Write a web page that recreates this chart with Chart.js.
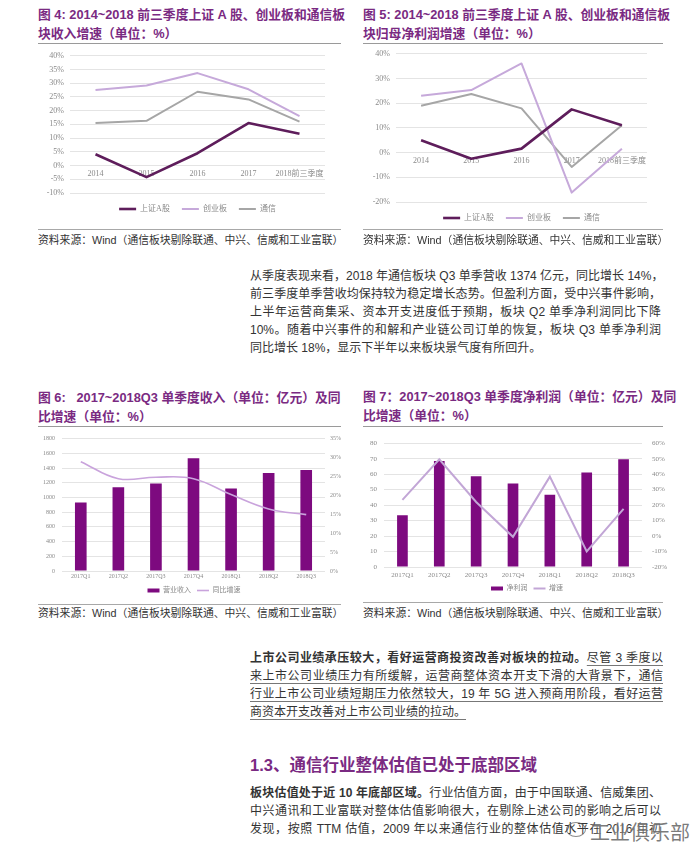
<!DOCTYPE html>
<html>
<head>
<meta charset="utf-8">
<script src="https://cdn.jsdelivr.net/npm/chart.js@4.4.0/dist/chart.umd.min.js"></script>
<style>
  body { margin: 0; background: #fff; width: 699px; height: 856px; overflow: hidden; position: relative;
         font-family: "Liberation Sans", "Noto Sans CJK SC", sans-serif; }
  .abs { position: absolute; }
  .title { position: absolute; color: #7a2a82; font-weight: bold; font-size: 12.8px; line-height: 19px; white-space: nowrap; }
  .jl { display: block; text-align: justify; text-align-last: justify; white-space: nowrap; }
  .hr { position: absolute; height: 0; border-top: 1.5px solid #9a9a9a; }
  .hr2 { position: absolute; height: 0; border-top: 1px solid #a8a8a8; }
  .src { position: absolute; font-size: 10.8px; color: #333; white-space: nowrap; line-height: 14px; }
  .txt { position: absolute; font-size: 12px; color: #333; line-height: 18px; }
  .txt div { white-space: nowrap; }
  .txt u { text-decoration-color: #777; text-underline-offset: 3px; }
  canvas { position: absolute; }
</style>
</head>
<body>

<!-- figure 4 -->
<div class="title" style="left:38px;top:5px;width:302px;">
  <span class="jl">图 4: 2014~2018 前三季度上证 A 股、创业板和通信板</span>
  <span>块收入增速（单位：%）</span>
</div>
<div class="hr" style="left:38px;top:43px;width:303px;"></div>
<canvas id="c4" width="300" height="178" style="left:30px;top:45px;"></canvas>
<div class="hr2" style="left:38px;top:229px;width:303px;"></div>
<div class="src" style="left:38px;top:233px;">资料来源：Wind（通信板块剔除联通、中兴、信威和工业富联）</div>

<!-- figure 5 -->
<div class="title" style="left:363px;top:5px;width:300px;">
  <span class="jl">图 5: 2014~2018 前三季度上证 A 股、创业板和通信板</span>
  <span>块归母净利润增速（单位：%）</span>
</div>
<div class="hr" style="left:363px;top:43px;width:300px;"></div>
<canvas id="c5" width="296" height="189" style="left:356px;top:43px;"></canvas>
<div class="hr2" style="left:363px;top:229px;width:300px;"></div>
<div class="src" style="left:363px;top:233px;">资料来源：Wind（通信板块剔除联通、中兴、信威和工业富联）</div>

<!-- paragraph 1 -->
<div class="txt" style="left:250px;top:267px;width:411px;">
  <div class="jl">从季度表现来看，2018 年通信板块 Q3 单季营收 1374 亿元，同比增长 14%，</div>
  <div class="jl">前三季度单季营收均保持较为稳定增长态势。但盈利方面，受中兴事件影响，</div>
  <div class="jl">上半年运营商集采、资本开支进度低于预期，板块 Q2 单季净利润同比下降</div>
  <div class="jl">10%。随着中兴事件的和解和产业链公司订单的恢复，板块 Q3 单季净利润</div>
  <div>同比增长 18%，显示下半年以来板块景气度有所回升。</div>
</div>

<!-- figure 6 -->
<div class="title" style="left:38px;top:388px;width:302px;">
  <span class="jl">图 6:&nbsp;&nbsp;&nbsp;2017~2018Q3 单季度收入（单位：亿元）及同</span>
  <span>比增速（单位：%）</span>
</div>
<div class="hr" style="left:38px;top:426px;width:303px;"></div>
<canvas id="c6" width="330" height="176" style="left:20px;top:428px;"></canvas>
<div class="hr2" style="left:38px;top:604px;width:303px;"></div>
<div class="src" style="left:38px;top:606px;">资料来源：Wind（通信板块剔除联通、中兴、信威和工业富联）</div>

<!-- figure 7 -->
<div class="title" style="left:363px;top:387px;width:300px;">
  <span class="jl">图 7：2017~2018Q3 单季度净利润（单位：亿元）及同</span>
  <span>比增速（单位：%）</span>
</div>
<div class="hr" style="left:363px;top:426px;width:300px;"></div>
<canvas id="c7" width="335" height="173" style="left:355px;top:429px;"></canvas>
<div class="hr2" style="left:363px;top:602px;width:300px;"></div>
<div class="src" style="left:363px;top:606px;">资料来源：Wind（通信板块剔除联通、中兴、信威和工业富联）</div>

<!-- paragraph 2 -->
<div class="txt" style="left:250px;top:649px;width:413px;">
  <div class="jl"><b>上市公司业绩承压较大，看好运营商投资改善对板块的拉动。</b><u>尽管 3 季度以</u></div>
  <div class="jl"><u>来上市公司业绩压力有所缓解，运营商整体资本开支下滑的大背景下，通信</u></div>
  <div class="jl"><u>行业上市公司业绩短期压力依然较大，19 年 5G 进入预商用阶段，看好运营</u></div>
  <div><u>商资本开支改善对上市公司业绩的拉动。</u></div>
</div>

<!-- section heading -->
<div class="abs" style="left:250px;top:754px;color:#7a2a82;font-weight:bold;font-size:16.5px;line-height:22px;white-space:nowrap;">1.3、通信行业整体估值已处于底部区域</div>

<!-- paragraph 3 -->
<div class="txt" style="left:250px;top:784px;width:411px;">
  <div class="jl"><b>板块估值处于近 10 年底部区域。</b>行业估值方面，由于中国联通、信威集团、</div>
  <div class="jl">中兴通讯和工业富联对整体估值影响很大，在剔除上述公司的影响之后可以</div>
  <div class="jl">发现，按照 TTM 估值，2009 年以来通信行业的整体估值水平在 2016 年初</div>
</div>

<!-- watermark -->
<div class="abs" style="left:566px;top:822px;width:18px;height:13px;border:1.5px solid rgba(90,90,90,0.7);border-radius:50%;"></div>
<div class="abs" style="left:590px;top:821px;font-size:20px;line-height:24px;color:rgba(80,80,80,0.75);text-shadow:0 0 2px #fff;white-space:nowrap;">工业俱乐部</div>

<script>
// figure 4 / 5 categories
const yearLabels = ['2014', '2015', '2016', '2017', '2018前三季度'];
// figure 4: revenue growth (%)
const revShA = [4.1, -4.2, 4.5, 15.5, 11.6];
const revGem = [27.5, 29.2, 33.7, 27.8, 18.0];
const revTel = [15.5, 16.3, 26.9, 24.1, 16.0];
// figure 5: net profit growth (%)
const profitShA = [5.0, -2.5, 1.6, 17.5, 11.1];
const profitGem = [23.0, 25.3, 36.1, -16.2, 1.6];
const profitTel = [19.0, 23.7, 17.9, -5.8, 11.1];
// figure 6 / 7
const quarterLabels = ['2017Q1', '2017Q2', '2017Q3', '2017Q4', '2018Q1', '2018Q2', '2018Q3'];
const quarterRevenue = [930, 1140, 1188, 1532, 1123, 1334, 1374];
const revenueGrowth = [28.9, 24.4, 24.8, 24.4, 20.2, 16.4, 14.9];
const quarterProfit = [33.5, 68.5, 58.6, 54.0, 46.7, 61.0, 69.6];
const profitGrowth = [23.4, 49.6, 22.0, -0.5, 38.4, -10.0, 17.6];

const GRID = '#e4e4e4';
const TICK = '#8a8a8a';
const SERIF = '"Liberation Serif", "Noto Sans CJK SC", serif';

// line charts of figure 4 and 5 (x labels sit on the 0% line)
function growthChart(id, series, yMin, yMax, step) {
    new Chart(document.getElementById(id), {
        type: 'line',
        data: {
            labels: yearLabels,
            datasets: [
                { label: '上证A股', data: series[0], borderColor: '#5e1d5b', borderWidth: 2.6 },
                { label: '创业板', data: series[1], borderColor: '#c6a9da', borderWidth: 2 },
                { label: '通信', data: series[2], borderColor: '#a6a6a6', borderWidth: 2 }
            ].map(d => Object.assign(d, { pointRadius: 0, tension: 0, fill: false, pointStyle: 'line', borderJoinStyle: 'round' }))
        },
        options: {
            responsive: false,
            animation: false,
            layout: { padding: { top: 0, right: 5, bottom: 0, left: 0 } },
            plugins: {
                tooltip: { enabled: false },
                legend: {
                    position: 'bottom',
                    fullSize: false,
                    labels: { usePointStyle: true, pointStyleWidth: 17, boxHeight: 8, padding: 12,
                              color: TICK, font: { size: 8, family: SERIF } }
                }
            },
            scales: {
                x: {
                    position: { y: 0 },
                    offset: true,
                    grid: { display: false, drawTicks: false },
                    border: { display: false },
                    ticks: { color: TICK, font: { size: 8, family: SERIF }, padding: 4, maxRotation: 0, autoSkip: false }
                },
                y: {
                    min: yMin, max: yMax,
                    grid: { color: GRID, drawTicks: false },
                    border: { display: false },
                    ticks: { stepSize: step, color: TICK, font: { size: 8, family: SERIF }, padding: 6,
                             callback: v => v + '%' },
                    afterFit: s => { s.width = 40; }
                }
            }
        }
    });
}

// bar + line charts of figure 6 and 7
function quarterChart(id, barLabel, bars, lineLabel, line, opt) {
    new Chart(document.getElementById(id), {
        data: {
            labels: quarterLabels,
            datasets: [
                { type: 'line', label: lineLabel, data: line, yAxisID: 'y1', borderColor: opt.lineColor,
                  borderWidth: opt.lineWidth, pointRadius: 0, tension: opt.tension, pointStyle: 'line', order: 0 },
                { type: 'bar', label: barLabel, data: bars, yAxisID: 'y', backgroundColor: '#7d0a7f',
                  barPercentage: opt.barPct, categoryPercentage: 1, pointStyle: 'rect', order: 1 }
            ]
        },
        options: {
            responsive: false,
            animation: false,
            layout: { padding: { left: opt.padLeft } },
            plugins: {
                tooltip: { enabled: false },
                legend: {
                    position: 'bottom',
                    reverse: true,
                    labels: { usePointStyle: true, pointStyleWidth: 12, boxHeight: 4, padding: opt.legendPad,
                              color: TICK, font: { size: 7, family: SERIF } }
                }
            },
            scales: {
                x: {
                    grid: { display: false, drawTicks: false },
                    border: { display: false },
                    ticks: { color: TICK, font: { size: opt.xFont, family: SERIF }, padding: opt.xPad, maxRotation: 0, autoSkip: false },
                    afterFit: s => { s.height = opt.xHeight; }
                },
                y: {
                    position: 'left',
                    min: opt.yMin, max: opt.yMax,
                    grid: { color: GRID, drawTicks: false },
                    border: { display: false },
                    ticks: { stepSize: opt.yStep, color: TICK, font: { size: opt.yFont, family: SERIF }, padding: 7,
                             callback: v => String(v) },
                    afterFit: s => { s.width = opt.yWidth - opt.padLeft; }
                },
                y1: {
                    position: 'right',
                    min: opt.y1Min, max: opt.y1Max,
                    grid: { display: false, drawTicks: false },
                    border: { display: false },
                    ticks: { stepSize: opt.y1Step, color: TICK, font: { size: opt.yFont, family: SERIF }, padding: opt.y1Pad,
                             callback: v => v + '%' },
                    afterFit: s => { s.width = opt.y1Width; }
                }
            }
        }
    });
}

growthChart('c4', [revShA, revGem, revTel], -10, 40, 5);
growthChart('c5', [profitShA, profitGem, profitTel], -20, 40, 10);

quarterChart('c6', '营业收入', quarterRevenue, '同比增速', revenueGrowth, {
    lineColor: '#c9a3dc', lineWidth: 1.6, tension: 0.4, barPct: 0.31,
    yMin: 0, yMax: 1800, yStep: 200, y1Min: 0, y1Max: 35, y1Step: 5,
    yFont: 6, xFont: 6, xPad: 2, xHeight: 10, legendPad: 6,
    yWidth: 42, y1Width: 25, y1Pad: 5, padLeft: 18
});
quarterChart('c7', '净利润', quarterProfit, '增速', profitGrowth, {
    lineColor: '#c2a6d6', lineWidth: 2, tension: 0, barPct: 0.29,
    yMin: 0, yMax: 80, yStep: 10, y1Min: -20, y1Max: 60, y1Step: 10,
    yFont: 7, xFont: 7, xPad: 4, xHeight: 12, legendPad: 6,
    yWidth: 29, y1Width: 48, y1Pad: 10, padLeft: 9
});
</script>
</body>
</html>
